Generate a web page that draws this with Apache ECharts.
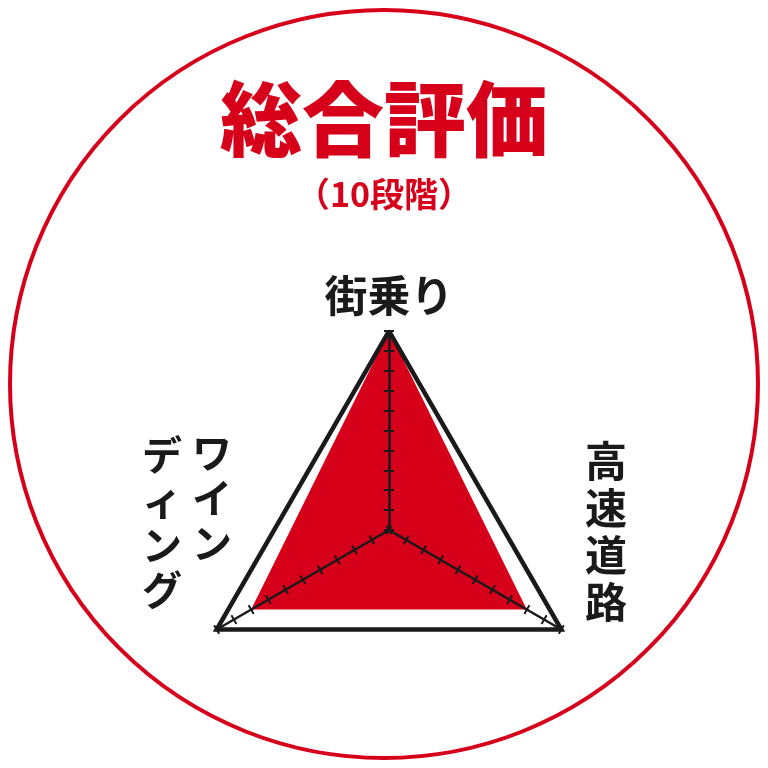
<!DOCTYPE html>
<html>
<head>
<meta charset="utf-8">
<script src="https://cdn.jsdelivr.net/npm/echarts@6/dist/echarts.min.js"></script>
<style>html,body{margin:0;padding:0;background:#fff}#c{width:768px;height:768px}</style>
</head>
<body>
<div id="c"></div>
<script>
const titleText = '総合評価';
const subtitleText = '（10段階）';
const indicatorNames = ['街乗り', 'ワインディング', '高速道路'];
const indicatorMax = [10, 10, 10];
const scores = [10, 8, 8];
const labelRight = ['高', '速', '道', '路'];
const labelLeftA = ['ワ', 'イ', 'ン'];
const labelLeftB = ['デ', 'ィ', 'ン', 'グ'];

const RED = '#d7001b';
const FONT = '"Noto Sans CJK JP", "Noto Sans", sans-serif';
const center = [389, 530];
const radius = 199;
const indicators = indicatorNames.map((n, i) => ({ name: n, max: indicatorMax[i] }));
const splitColors = Array.from({ length: 11 }, (_, i) => i === 10 ? '#1a1a1a' : 'rgba(0,0,0,0)');

const chart = echarts.init(document.getElementById('c'), null, { renderer: 'canvas' });
chart.setOption({
  backgroundColor: '#fff',
  title: {
    text: titleText,
    subtext: subtitleText,
    left: 'center',
    top: 68,
    itemGap: 12,
    textStyle: { color: RED, fontSize: 82, fontWeight: 900, fontFamily: FONT, lineHeight: 92 },
    subtextStyle: { color: RED, fontSize: 34, fontWeight: 'bold', fontFamily: FONT }
  },
  graphic: [
    { type: 'circle', shape: { cx: 384, cy: 384, r: 374 }, style: { fill: 'none', stroke: RED, lineWidth: 4 }, z: 0 },
    { type: 'text', x: 606, y: 438, style: { text: labelRight.join('\n'), font: 'bold 42px ' + FONT, fill: '#1a1a1a', align: 'center', lineHeight: 47 } },
    { type: 'text', x: 212, y: 430, style: { text: labelLeftA.join('\n'), font: 'bold 40px ' + FONT, fill: '#1a1a1a', align: 'center', lineHeight: 45 } },
    { type: 'text', x: 162, y: 432, style: { text: labelLeftB.join('\n'), font: 'bold 40px ' + FONT, fill: '#1a1a1a', align: 'center', lineHeight: 45 } }
  ],
  radar: [
    {
      center: center, radius: radius, startAngle: 90, shape: 'polygon', splitNumber: 10, z: 5,
      indicator: indicators,
      axisName: {
        formatter: (name, ind) => ind && ind.name === indicatorNames[0] ? name : '',
        color: '#1a1a1a', fontSize: 43, fontWeight: 'bold', fontFamily: FONT
      },
      nameGap: 14,
      axisLine: { show: true, lineStyle: { color: '#1a1a1a', width: 2.5 } },
      axisTick: { show: true, length: 5, lineStyle: { color: '#1a1a1a', width: 2 } },
      splitLine: { show: true, lineStyle: { color: splitColors, width: 4.5 } },
      splitArea: { show: false },
      axisLabel: { show: false }
    },
    {
      center: center, radius: radius, startAngle: 90, shape: 'polygon', splitNumber: 10, z: 5,
      indicator: indicators,
      axisName: { show: false },
      axisLine: { show: false },
      axisTick: { show: true, length: -5, lineStyle: { color: '#1a1a1a', width: 2 } },
      splitLine: { show: false },
      splitArea: { show: false },
      axisLabel: { show: false }
    }
  ],
  series: [{
    type: 'radar',
    radarIndex: 0,
    z: 2,
    symbol: 'none',
    silent: true,
    animation: false,
    lineStyle: { width: 0, color: RED },
    areaStyle: { color: RED, opacity: 1 },
    data: [{ value: scores, name: titleText }]
  }],
  animation: false
});
</script>
</body>
</html>
